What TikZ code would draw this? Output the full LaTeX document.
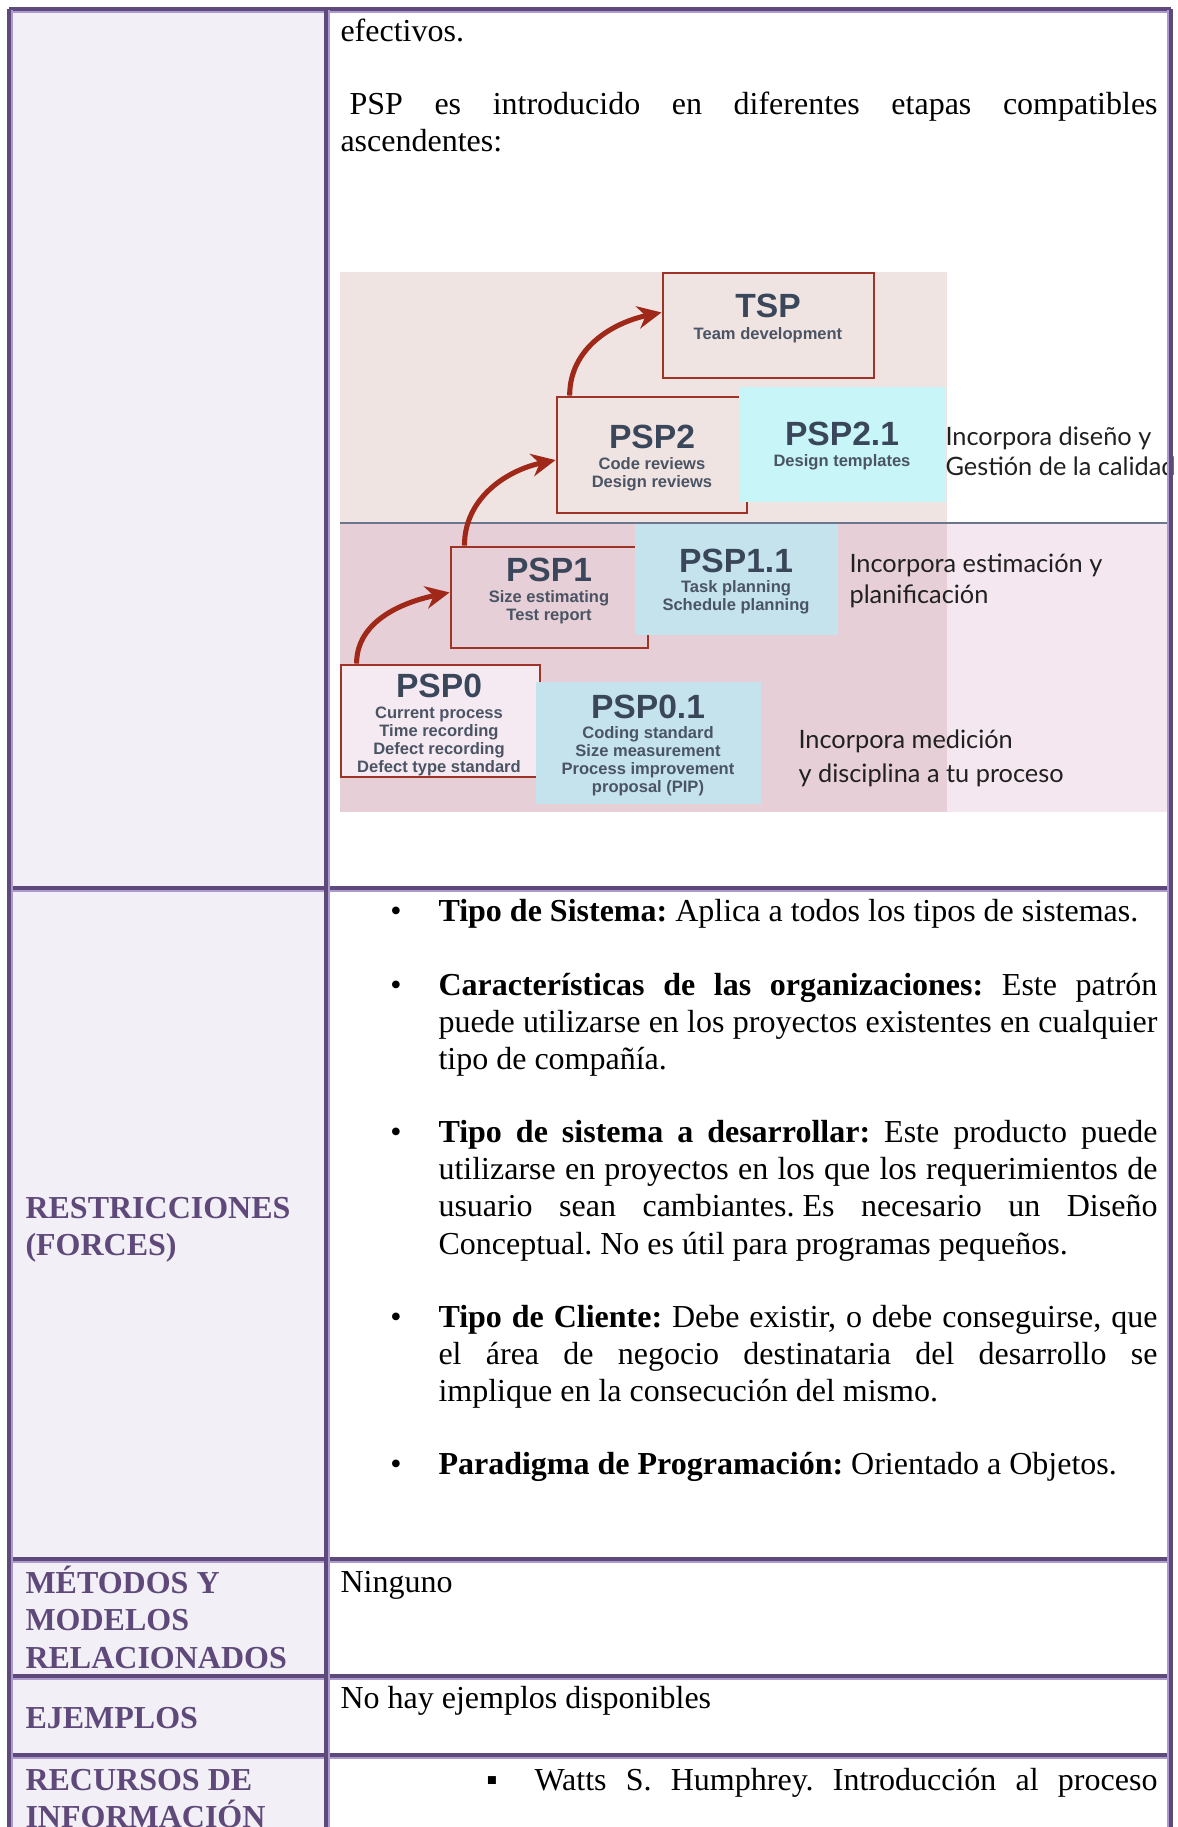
\documentclass[tikz,border=0pt]{standalone}
\usepackage{fontspec}
\setmainfont{Liberation Serif}
\newfontfamily\diagfont{Liberation Sans}
\newfontfamily\notefont{Lato}
\usetikzlibrary{arrows.meta,fit}
\frenchspacing

\definecolor{tabdark}{RGB}{93,74,123}
\definecolor{tablight}{RGB}{172,154,206}
\definecolor{headfill}{RGB}{242,240,246}
\definecolor{headtext}{RGB}{95,73,122}
\definecolor{upperbg}{RGB}{240,228,226}
\definecolor{lowerbg}{RGB}{230,207,214}
\definecolor{lowerbgr}{RGB}{244,231,240}
\definecolor{sepline}{RGB}{108,118,142}
\definecolor{boxred}{RGB}{158,52,40}
\definecolor{arrowred}{RGB}{160,40,25}
\definecolor{stagefill}{RGB}{246,234,242}
\definecolor{cyanfill}{RGB}{200,245,248}
\definecolor{bluefill}{RGB}{196,227,236}
\definecolor{stagetext}{RGB}{58,70,90}
\definecolor{subtext}{RGB}{74,84,100}
\definecolor{notetext}{RGB}{32,32,32}

% one justified line of a given width
\newcommand\justline[2]{\makebox[#1][s]{#2}}
\newcommand\bw{269.6pt}

\begin{document}
\begin{tikzpicture}[x=0.375pt,y=-0.375pt,
  body/.style={font=\fontsize{12pt}{14pt}\selectfont,inner sep=0pt,anchor=base west,text=black},
  bul/.style={body,anchor=base},
  head/.style={font=\fontsize{12pt}{14pt}\selectfont\bfseries,text=headtext,inner sep=0pt,anchor=base west},
  stagebox/.style={draw=boxred,line width=1.1pt,inner sep=0pt},
  plainbox/.style={inner sep=0pt},
  note/.style={font=\notefont\fontsize{9.5pt}{11.6pt}\selectfont,text=notetext,inner sep=0pt,anchor=base west},
  stitle/.style={font=\diagfont\bfseries\fontsize{12.6pt}{14pt}\selectfont,text=stagetext,inner sep=0pt,anchor=base},
  ssub/.style={font=\diagfont\bfseries\fontsize{6.2pt}{6.8pt}\selectfont,text=subtext,inner sep=0pt,anchor=base},
  stair/.style={draw=arrowred,line width=1.9pt,-{Stealth[length=9pt,width=8.5pt]}},
  hdark/.style={draw=tabdark,line width=1.2pt},
  hlight/.style={draw=tablight,line width=0.6pt}]
\useasboundingbox (0,0) rectangle (1177,1827);
\clip (0,0) rectangle (1177,1827);

% header column
\fill[headfill] (9,9) rectangle (326,1827);

% ---- PSP levels figure ----
\fill[upperbg] (340,272) rectangle (947,523);
\fill[lowerbg] (340,523) rectangle (947,812);
\fill[lowerbgr] (947,523) rectangle (1171,812);
\draw[sepline,line width=0.8pt] (340,523) -- (1171,523);

\node[stagebox,fill=upperbg,fit={(663,273) (874,378)}] (tsp) {};
\node[stagebox,fill=upperbg,fit={(557,397) (747,513)}] (psp2) {};
\node[plainbox,fill=cyanfill,fit={(739,387) (946,502)}] (psp21) {};
\node[stagebox,fill=lowerbg,fit={(451,547) (648,648)}] (psp1) {};
\node[plainbox,fill=bluefill,fit={(635,524) (838,635)}] (psp11) {};
\node[stagebox,fill=stagefill,fit={(341,665) (540,777)}] (psp0) {};
\node[plainbox,fill=bluefill,fit={(536,682) (761,804)}] (psp01) {};

\node[stitle] (tspT) at (768,317) {TSP};
\node[ssub] (tspS1) at (768,339) {Team development};

\node[stitle] (psp2T) at (652,448) {PSP2};
\node[ssub] (psp2S1) at (652,469) {Code reviews};
\node[ssub] (psp2S2) at (652,487) {Design reviews};

\node[stitle] (psp21T) at (842,445) {PSP2.1};
\node[ssub] (psp21S1) at (842,466) {Design templates};

\node[stitle] (psp1T) at (549,581) {PSP1};
\node[ssub] (psp1S1) at (549,602) {Size estimating};
\node[ssub] (psp1S2) at (549,620) {Test report};

\node[stitle] (psp11T) at (736,572) {PSP1.1};
\node[ssub] (psp11S1) at (736,592) {Task planning};
\node[ssub] (psp11S2) at (736,610) {Schedule planning};

\node[stitle] (psp0T) at (439,697) {PSP0};
\node[ssub] (psp0S1) at (439,718) {Current process};
\node[ssub] (psp0S2) at (439,736) {Time recording};
\node[ssub] (psp0S3) at (439,754) {Defect recording};
\node[ssub] (psp0S4) at (439,772) {Defect type standard};

\node[stitle] (psp01T) at (648,718) {PSP0.1};
\node[ssub] (psp01S1) at (648,738) {Coding standard};
\node[ssub] (psp01S2) at (648,756) {Size measurement};
\node[ssub] (psp01S3) at (648,774) {Process improvement};
\node[ssub] (psp01S4) at (648,792) {proposal (PIP)};

\draw[stair] ([xshift=6.4pt]psp0.north west) .. controls +(0,-42) and +(-48,10) .. ([yshift=1.9pt]psp1.west);
\draw[stair] ([xshift=5.6pt]psp1.north west) .. controls +(0,-48) and +(-48,10) .. ([yshift=-1.9pt]psp2.west);
\draw[stair] ([xshift=5.3pt]psp2.north west) .. controls +(0,-48) and +(-48,10) .. ([yshift=4.9pt]tsp.west);

\node[note] (n2a) at (945,445) {Incorpora diseño y};
\node[note] (n2b) at (945,475) {Gestión de la calidad};
\node[note] (n1a) at (849,572) {Incorpora estimación y};
\node[note] (n1b) at (849,603) {planificación};
\node[note] (n0a) at (798,748) {Incorpora medición};
\node[note] (n0b) at (798,782) {y disciplina a tu proceso};

% ---- row 1 text ----
\node[body] (r1a) at (340,41) {efectivos.};
\node[body] (r1b) at (340,114) {\justline{306.4pt}{\hspace*{3.4pt}PSP es introducido en diferentes etapas compatibles}};
\node[body] (r1c) at (340,151) {ascendentes:};

% ---- row 2: forces ----
\node[head] (h2a) at (25,1218) {RESTRICCIONES};
\node[head] (h2b) at (25,1255) {(FORCES)};

\node[bul] (b1) at (396,921) {•};
\node[body] (f1) at (438,921) {\textbf{Tipo de Sistema:} Aplica a todos los tipos de sistemas.};

\node[bul] (b2) at (396,995) {•};
\node[body] (f2a) at (438,995) {\justline{\bw}{\textbf{Características de las organizaciones:} Este patrón}};
\node[body] (f2b) at (438,1032.3) {\justline{\bw}{puede utilizarse en los proyectos existentes en cualquier}};
\node[body] (f2c) at (438,1069.7) {tipo de compañía.};

\node[bul] (b3) at (396,1142) {•};
\node[body] (f3a) at (438,1142) {\justline{\bw}{\textbf{Tipo de sistema a desarrollar:} Este producto puede}};
\node[body] (f3b) at (438,1179.3) {\justline{\bw}{utilizarse en proyectos en los que los requerimientos de}};
\node[body] (f3c) at (438,1216.7) {\justline{\bw}{usuario sean cambiantes.\hspace*{3pt}Es necesario un Diseño}};
\node[body] (f3d) at (438,1254) {Conceptual. No es útil para programas pequeños.};

\node[bul] (b4) at (396,1327) {•};
\node[body] (f4a) at (438,1327) {\justline{\bw}{\textbf{Tipo de Cliente:} Debe existir, o debe conseguirse, que}};
\node[body] (f4b) at (438,1364.3) {\justline{\bw}{el área de negocio destinataria del desarrollo se}};
\node[body] (f4c) at (438,1401.7) {implique en la consecución del mismo.};

\node[bul] (b5) at (396,1474) {•};
\node[body] (f5) at (438,1474) {\textbf{Paradigma de Programación:} Orientado a Objetos.};

% ---- row 3 ----
\node[head] (h3a) at (25,1593) {MÉTODOS Y};
\node[head] (h3b) at (25,1630) {MODELOS};
\node[head] (h3c) at (25,1668) {RELACIONADOS};
\node[body] (r3) at (340,1592) {Ninguno};

% ---- row 4 ----
\node[head] (h4) at (25,1728) {EJEMPLOS};
\node[body] (r4) at (340,1708) {No hay ejemplos disponibles};

% ---- row 5 ----
\node[head] (h5a) at (25,1790) {RECURSOS DE};
\node[head] (h5b) at (25,1827) {INFORMACIÓN};
\node[bul] (b6) at (492,1790) {▪};
\node[body] (r5) at (534,1790) {\justline{233.6pt}{Watts S. Humphrey. Introducción al proceso}};

% ---- table rules ----
\foreach \yy in {9,888,1559,1676,1755} {
  \draw[hdark] (9,\yy) -- (1171,\yy);
  \draw[hlight] (9,\yy+3) -- (1171,\yy+3);
}
\foreach \xx in {9,326} {
  \draw[hdark] (\xx,9) -- (\xx,1827);
  \draw[hlight] (\xx+3,10) -- (\xx+3,1827);
}
\draw[hdark] (1171,9) -- (1171,1827);
\draw[hlight] (1168,10) -- (1168,1827);
\end{tikzpicture}
\end{document}
